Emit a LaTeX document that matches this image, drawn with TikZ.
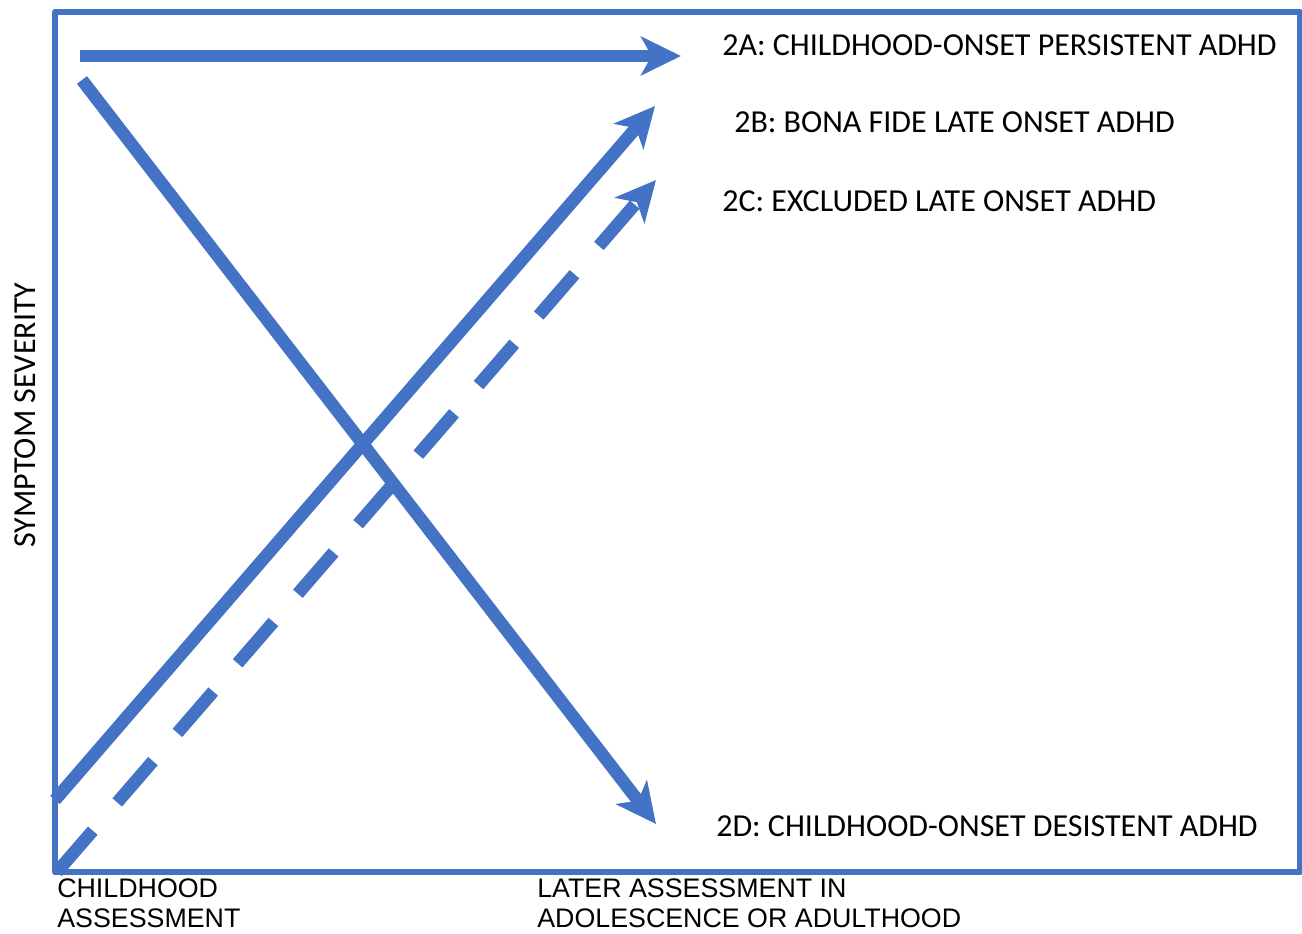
\documentclass[tikz,border=0pt]{standalone}
\usepackage{fontspec}
\setmainfont{Carlito}
\newfontfamily\axisfont{Liberation Sans}
\usepackage{tikz}
\usetikzlibrary{arrows.meta}

\definecolor{trendblue}{HTML}{4472C4}

\tikzset{
  trend/.style={trendblue, line width=9.5pt, -{Stealth[length=30pt, width=29pt, inset=8pt]}},
  caselabel/.style={anchor=base west, inner sep=0pt, font=\fontsize{24}{28}\selectfont},
  axislabel/.style={anchor=base west, inner sep=0pt, align=left, font=\axisfont\fontsize{20.1}{22.5}\selectfont}
}

\begin{document}
\begin{tikzpicture}[x=0.75pt, y=-0.75pt]
            \useasboundingbox (0,0) rectangle (1302,934);

            % Draw frame
            \draw[trendblue, line width=4.5pt, line join=round] (55,12) rectangle (1300,872);

            % End points of the trends
            \coordinate (persStart) at (80,56);
            \coordinate (persEnd) at (681,56);
            \coordinate (fideStart) at (55,800);
            \coordinate (fideEnd) at (655,106);
            \coordinate (exclStart) at (57,872);
            \coordinate (exclEnd) at (656,180);
            \coordinate (desStart) at (82,80);
            \coordinate (desEnd) at (656,824);

            % Draw the four trends
            \draw[trend] (persStart) -- (persEnd);
            \draw[trend] (desStart) -- (desEnd);
            \draw[trend] (fideStart) -- (fideEnd);
            \draw[trend, dash pattern=on 41pt off 28pt] (exclStart) -- (exclEnd);

            % Labels
            \node[caselabel] (persLabel) at (722,56) {2A: CHILDHOOD-ONSET PERSISTENT ADHD};
            \node[caselabel] (fideLabel) at (734,133) {2B: BONA FIDE LATE ONSET ADHD};
            \node[caselabel] (exclLabel) at (722,212) {2C: EXCLUDED LATE ONSET ADHD};
            \node[caselabel] (desLabel) at (716,836) {2D: CHILDHOOD-ONSET DESISTENT ADHD};

            % Axes
            \node[rotate=90, inner sep=0pt, font=\fontsize{24}{28}\selectfont] (yLabel) at (25,415) {SYMPTOM SEVERITY};
            \node[axislabel] (startLabel) at (57,927) {CHILDHOOD\\ASSESSMENT};
            \node[axislabel] (laterLabel) at (537,927) {LATER ASSESSMENT IN\\ADOLESCENCE OR ADULTHOOD};
        \end{tikzpicture}
\end{document}
